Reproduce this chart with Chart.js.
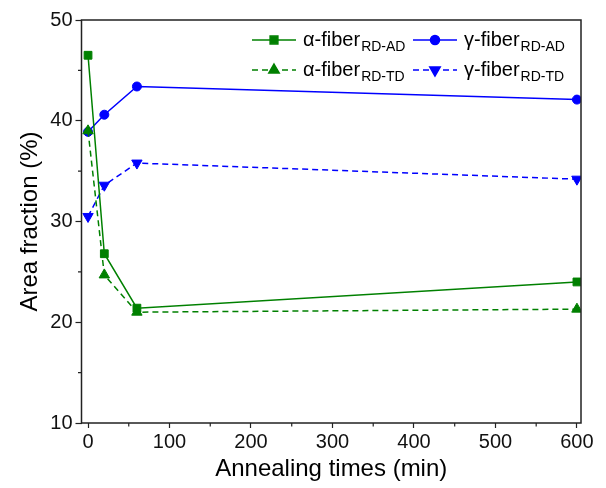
<!DOCTYPE html>
<html>
<head>
<meta charset="utf-8">
<script src="https://cdn.jsdelivr.net/npm/chart.js@4/dist/chart.umd.min.js"></script>
<style>
  body { margin: 0; background: #fff; }
  #wrap { width: 606px; height: 488px; }
</style>
</head>
<body>
<div id="wrap"><canvas id="grafico" width="606" height="488"></canvas></div>
<script>
// Dados
const tempos = [0, 20, 60, 600];
const alfaAD = [46.5, 26.8, 21.4, 24.0];
const gamaAD = [38.9, 40.6, 43.4, 42.1];
const alfaTD = [39.0, 24.7, 21.0, 21.3];
const gamaTD = [30.5, 33.6, 35.8, 34.2];

const nomes = ['α-fiber', 'γ-fiber', 'α-fiber', 'γ-fiber'];
const subscritos = ['RD-AD', 'RD-AD', 'RD-TD', 'RD-TD'];

const ticksX = [0, 100, 200, 300, 400, 500, 600];
const ticksXMenores = [50, 150, 250, 350, 450, 550];
const ticksY = [10, 20, 30, 40, 50];
const ticksYMenores = [15, 25, 35, 45];

const VERDE = '#008000';
const AZUL = '#0000ff';
const FONTE = "'Liberation Sans', Arial, sans-serif";

function pontos(valores) {
    return tempos.map((t, i) => ({ x: t, y: valores[i] }));
}

const estilos = [
    { cor: VERDE, ponto: 'rect', raio: 5.5, rot: 0, tracejado: [] },
    { cor: AZUL, ponto: 'circle', raio: 4.5, rot: 0, tracejado: [] },
    { cor: VERDE, ponto: 'triangle', raio: 6, rot: 0, tracejado: [6, 4] },
    { cor: AZUL, ponto: 'triangle', raio: 6, rot: 180, tracejado: [6, 4] }
];
const series = [alfaAD, gamaAD, alfaTD, gamaTD];
const ordens = [2, 3, 1, 4];

const datasets = series.map((s, i) => ({
    label: nomes[i] + ' ' + subscritos[i],
    data: pontos(s),
    borderColor: estilos[i].cor,
    backgroundColor: estilos[i].cor,
    borderWidth: 1.5,
    borderDash: estilos[i].tracejado,
    pointStyle: estilos[i].ponto,
    pointRadius: estilos[i].raio,
    pointRotation: estilos[i].rot,
    pointBorderWidth: 1,
    tension: 0,
    order: ordens[i]
}));

// Moldura, ticks menores e legenda com subscrito
const extras = {
    id: 'extras',
    afterDraw(chart) {
        const ctx = chart.ctx;
        const a = chart.chartArea;
        const sx = chart.scales.x, sy = chart.scales.y;
        ctx.save();
        ctx.strokeStyle = '#222';
        ctx.lineWidth = 1.5;
        ctx.strokeRect(a.left, a.top, a.right - a.left, a.bottom - a.top);

        ctx.lineWidth = 1.2;
        ctx.beginPath();
        ticksXMenores.forEach(v => {
            const px = sx.getPixelForValue(v);
            ctx.moveTo(px, a.bottom);
            ctx.lineTo(px, a.bottom + 3.5);
        });
        ticksYMenores.forEach(v => {
            const py = sy.getPixelForValue(v);
            ctx.moveTo(a.left, py);
            ctx.lineTo(a.left - 3.5, py);
        });
        ctx.stroke();

        // legenda
        const posicoes = [
            { x: 252, y: 40 }, { x: 413, y: 40 },
            { x: 252, y: 70 }, { x: 413, y: 70 }
        ];
        posicoes.forEach((p, i) => {
            const e = estilos[i];
            ctx.strokeStyle = e.cor;
            ctx.fillStyle = e.cor;
            ctx.lineWidth = 1.5;
            ctx.setLineDash(e.tracejado);
            ctx.beginPath();
            ctx.moveTo(p.x, p.y);
            ctx.lineTo(p.x + 44, p.y);
            ctx.stroke();
            ctx.setLineDash([]);
            Chart.helpers.drawPoint(ctx, {
                pointStyle: e.ponto, radius: e.raio, rotation: e.rot, borderWidth: 1
            }, p.x + 22, p.y);
            ctx.fillStyle = '#000';
            ctx.textBaseline = 'middle';
            ctx.textAlign = 'left';
            ctx.font = '20px ' + FONTE;
            const tx = p.x + 51;
            ctx.fillText(nomes[i], tx, p.y);
            const w = ctx.measureText(nomes[i]).width;
            ctx.font = '14px ' + FONTE;
            ctx.fillText(subscritos[i], tx + w + 1, p.y + 7);
        });
        ctx.restore();
    }
};

new Chart(document.getElementById('grafico'), {
    type: 'line',
    data: { datasets },
    options: {
        responsive: false,
        animation: false,
        layout: { padding: { top: 20, right: 25, left: 0, bottom: 0 } },
        plugins: { legend: { display: false }, tooltip: { enabled: false } },
        scales: {
            x: {
                type: 'linear',
                min: -8,
                max: 605,
                afterBuildTicks: s => { s.ticks = ticksX.map(v => ({ value: v })); },
                afterFit: s => { s.height = 65; },
                border: { display: false },
                grid: { drawOnChartArea: false, tickLength: 5, tickColor: '#222', tickWidth: 1.2 },
                ticks: { font: { family: FONTE, size: 20 }, color: '#111', padding: 2, maxRotation: 0 },
                title: { display: true, text: 'Annealing times (min)', font: { family: FONTE, size: 24 }, color: '#000', padding: { top: 0, bottom: 4 } }
            },
            y: {
                min: 10,
                max: 50,
                afterBuildTicks: s => { s.ticks = ticksY.map(v => ({ value: v })); },
                afterFit: s => { s.width = 81.5; },
                border: { display: false },
                grid: { drawOnChartArea: false, tickLength: 6, tickColor: '#222', tickWidth: 1.2 },
                ticks: { font: { family: FONTE, size: 20 }, color: '#111', padding: 3 },
                title: { display: true, text: 'Area fraction (%)', font: { family: FONTE, size: 24 }, color: '#000', padding: { top: 16, bottom: 0 } }
            }
        }
    },
    plugins: [extras]
});
</script>
</body>
</html>
